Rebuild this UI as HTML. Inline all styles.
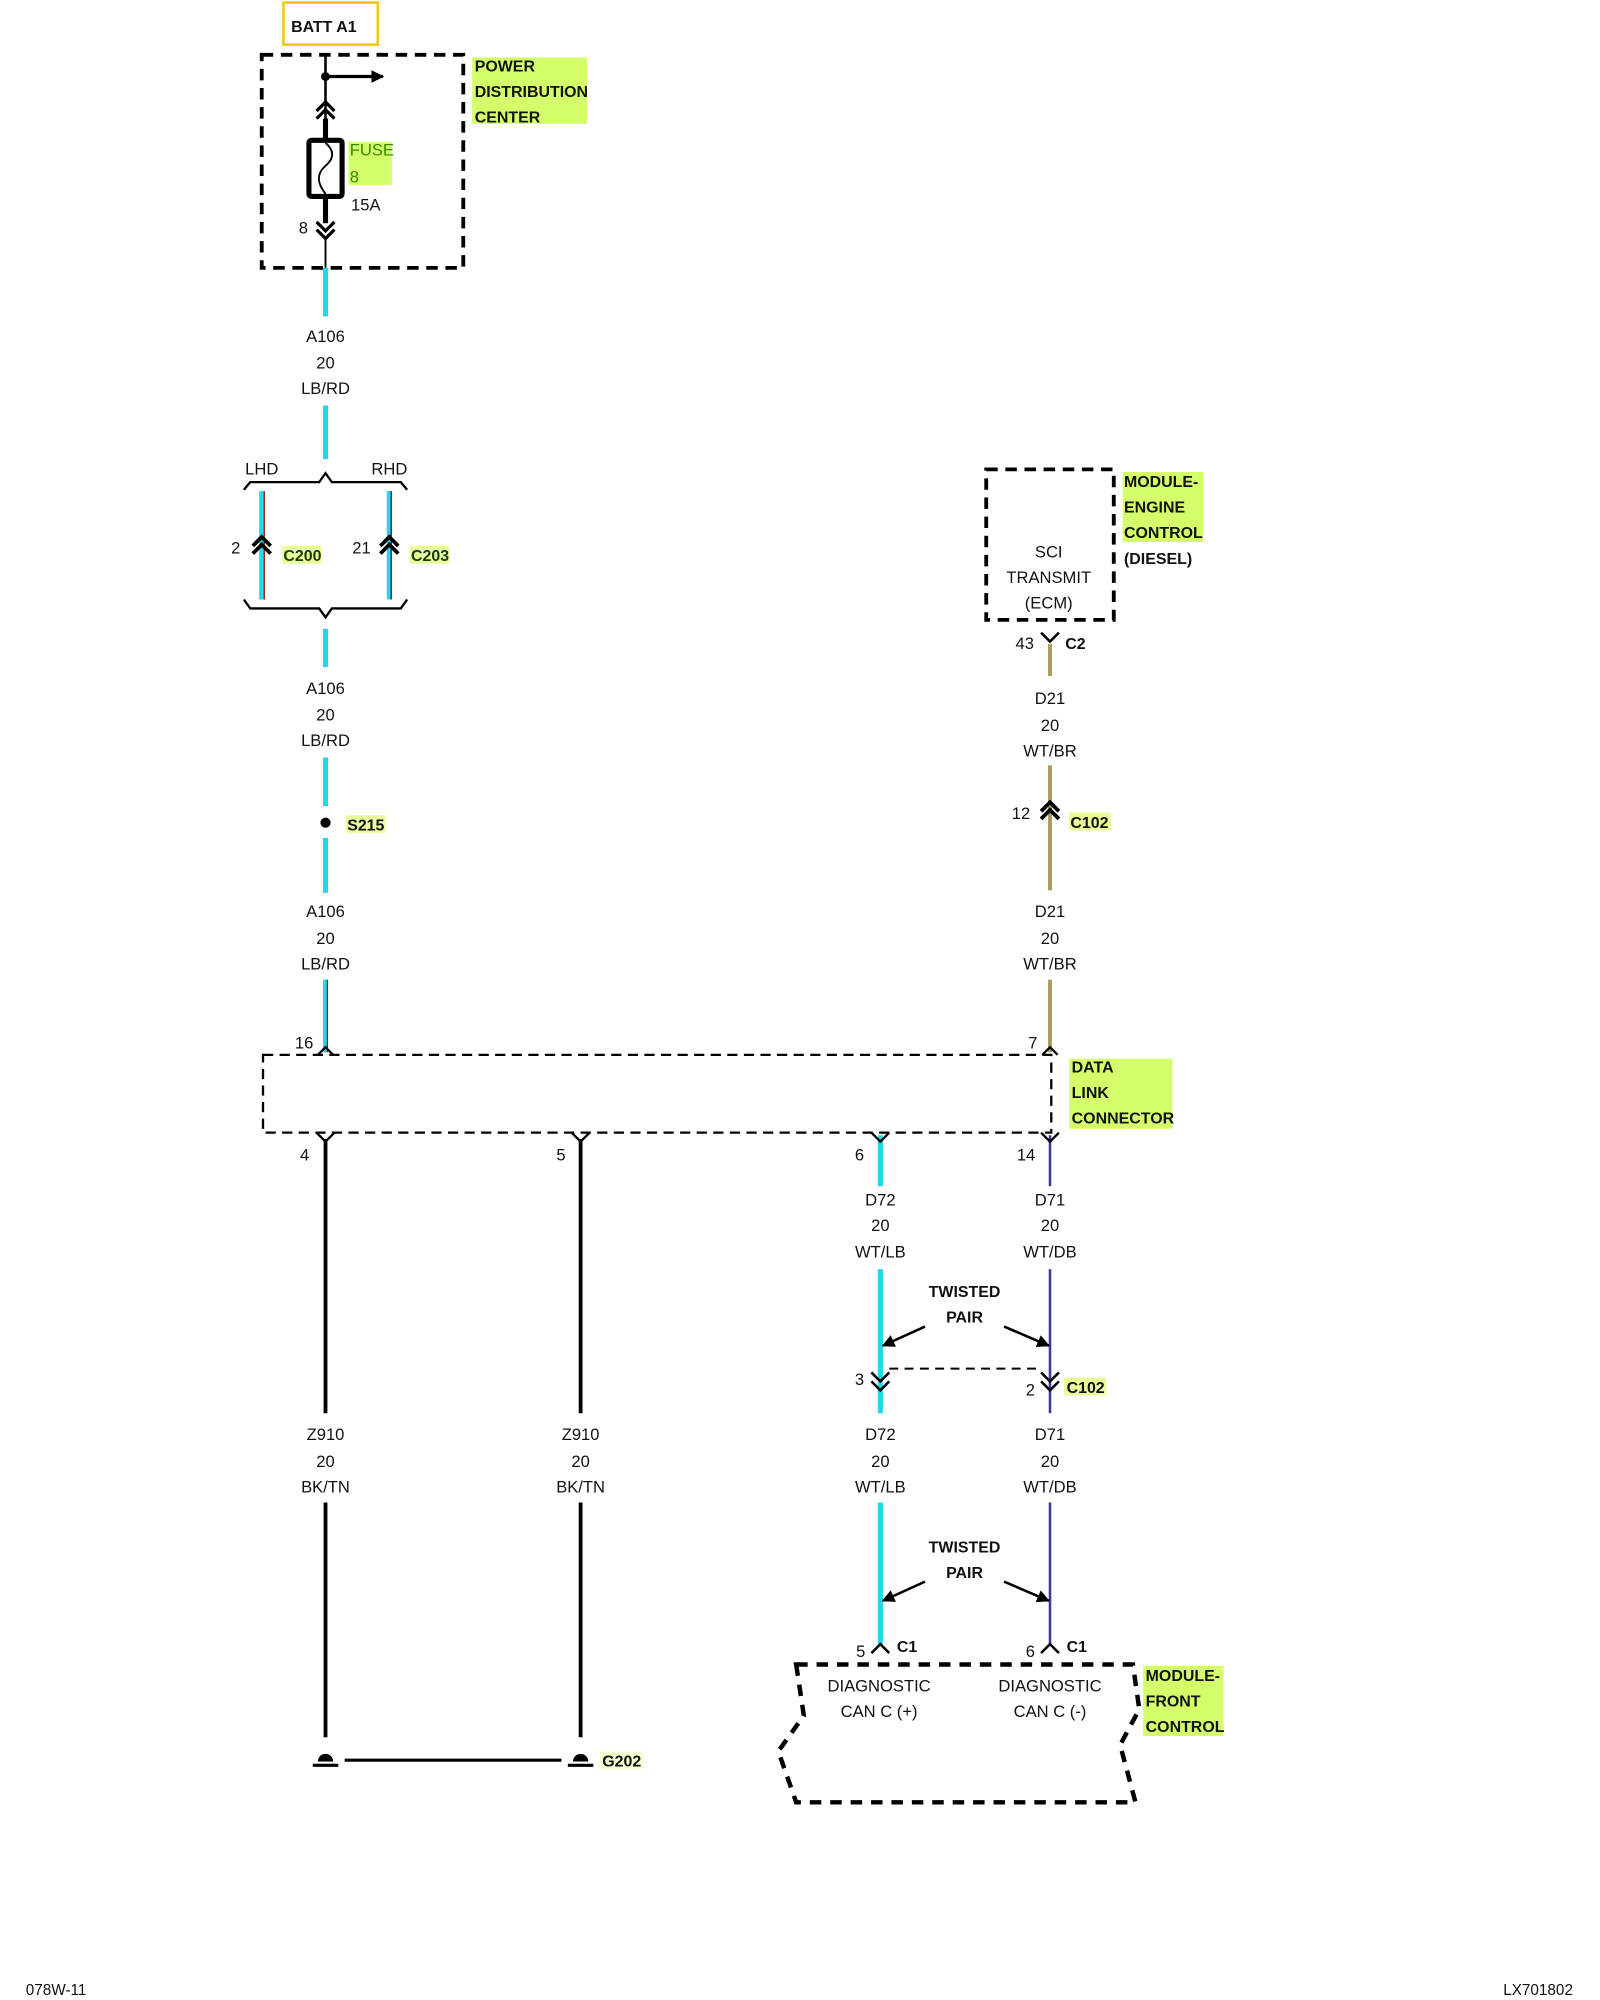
<!DOCTYPE html>
<html><head><meta charset="utf-8"><style>
html,body{margin:0;padding:0;background:#fff;}
svg{display:block;}
text{font-family:"Liberation Sans",Arial,sans-serif;font-size:13px;fill:#111;}
.b{font-weight:bold;font-size:12.5px;}
.m{text-anchor:middle;}
</style></head><body>
<svg width="1600" height="2000" viewBox="0 0 1254 1568" xmlns="http://www.w3.org/2000/svg">
<defs>
<marker id="ah" markerWidth="10" markerHeight="10" refX="9" refY="5" orient="auto" markerUnits="userSpaceOnUse"><path d="M0,0 L10,5 L0,10z" fill="#000"/></marker>
</defs>
<!-- BATT A1 -->
<rect x="222" y="2" width="74" height="33" fill="none" stroke="#f5c518" stroke-width="2"/>
<text x="228" y="25" class="b">BATT A1</text>
<!-- PDC -->
<rect x="205" y="43" width="158" height="167" fill="none" stroke="#000" stroke-width="3" stroke-dasharray="9,6"/>
<rect x="370" y="45" width="90" height="52" fill="#d4ff6a"/>
<text x="372" y="56" class="b">POWER</text><text x="372" y="76" class="b">DISTRIBUTION</text><text x="372" y="96" class="b">CENTER</text>
<line x1="255" y1="43" x2="255" y2="110" stroke="#000" stroke-width="2"/>
<circle cx="255" cy="60" r="3.5"/>
<line x1="255" y1="60" x2="300" y2="60" stroke="#000" stroke-width="2.5" marker-end="url(#ah)"/>
<path d="M248,87 L255,80 L262,87 M248,93 L255,86 L262,93" fill="none" stroke="#000" stroke-width="2.5"/>
<line x1="255" y1="93" x2="255" y2="110" stroke="#000" stroke-width="4"/>
<rect x="242" y="110" width="26" height="44" rx="2" fill="#fff" stroke="#000" stroke-width="4"/>
<path d="M255,112 C262,118 262,124 255,130 C248,136 248,143 255,152" fill="none" stroke="#000" stroke-width="1.5"/>
<line x1="255" y1="154" x2="255" y2="175" stroke="#000" stroke-width="4"/>
<path d="M248,174 L255,181 L262,174 M248,180 L255,187 L262,180" fill="none" stroke="#000" stroke-width="2.5"/>
<line x1="255" y1="185" x2="255" y2="210" stroke="#000" stroke-width="1.5"/>
<rect x="273" y="111" width="34" height="34" fill="#d4ff6a"/>
<text x="274" y="122" fill="#3a7a00" style="fill:#3a8a00">FUSE</text><text x="274" y="143" style="fill:#3a8a00">8</text>
<text x="275" y="165">15A</text><text x="234" y="183">8</text>
<!-- cyan wire segments -->
<g stroke-linecap="butt">
<g stroke="#22d8e8" stroke-width="4">
<line x1="255" y1="210" x2="255" y2="248"/><line x1="255" y1="318" x2="255" y2="360"/>
<line x1="205" y1="385" x2="205" y2="470"/><line x1="305" y1="385" x2="305" y2="470"/>
<line x1="255" y1="493" x2="255" y2="523"/><line x1="255" y1="594" x2="255" y2="632"/>
<line x1="255" y1="657" x2="255" y2="700"/><line x1="255" y1="768" x2="255" y2="825"/>
<line x1="690" y1="890" x2="690" y2="930"/><line x1="690" y1="995" x2="690" y2="1108"/>
<line x1="690" y1="1178" x2="690" y2="1290"/>
</g>
<g stroke="#a01010" stroke-width="1">
<line x1="207" y1="385" x2="207" y2="470"/><line x1="256.5" y1="768" x2="256.5" y2="825"/>
</g>
<g stroke="#1a1a70" stroke-width="1">
<line x1="306.5" y1="385" x2="306.5" y2="470"/>
</g>
<g stroke="#3a3a9a" stroke-width="2">
<line x1="823" y1="890" x2="823" y2="930"/><line x1="823" y1="995" x2="823" y2="1108"/><line x1="823" y1="1178" x2="823" y2="1290"/>
</g>
<g stroke="#a89a5a" stroke-width="3">
<line x1="823" y1="505" x2="823" y2="530"/><line x1="823" y1="600" x2="823" y2="698"/><line x1="823" y1="768" x2="823" y2="825"/>
</g>
</g>
<!-- wire labels -->
<g class="m">
<text x="255" y="268" class="m">A106</text><text x="255" y="289" class="m">20</text><text x="255" y="309" class="m">LB/RD</text>
<text x="255" y="544" class="m">A106</text><text x="255" y="565" class="m">20</text><text x="255" y="585" class="m">LB/RD</text>
<text x="255" y="719" class="m">A106</text><text x="255" y="740" class="m">20</text><text x="255" y="760" class="m">LB/RD</text>
<text x="823" y="552" class="m">D21</text><text x="823" y="573" class="m">20</text><text x="823" y="593" class="m">WT/BR</text>
<text x="823" y="719" class="m">D21</text><text x="823" y="740" class="m">20</text><text x="823" y="760" class="m">WT/BR</text>
<text x="690" y="945" class="m">D72</text><text x="690" y="965" class="m">20</text><text x="690" y="986" class="m">WT/LB</text>
<text x="823" y="945" class="m">D71</text><text x="823" y="965" class="m">20</text><text x="823" y="986" class="m">WT/DB</text>
<text x="690" y="1129" class="m">D72</text><text x="690" y="1150" class="m">20</text><text x="690" y="1170" class="m">WT/LB</text>
<text x="823" y="1129" class="m">D71</text><text x="823" y="1150" class="m">20</text><text x="823" y="1170" class="m">WT/DB</text>
<text x="255" y="1129" class="m">Z910</text><text x="255" y="1150" class="m">20</text><text x="255" y="1170" class="m">BK/TN</text>
<text x="455" y="1129" class="m">Z910</text><text x="455" y="1150" class="m">20</text><text x="455" y="1170" class="m">BK/TN</text>
</g>
<!-- braces -->
<path d="M191,384 L196,378 L250,378 L255,371 L260,378 L314,378 L319,384" fill="none" stroke="#000" stroke-width="1.8"/>
<text x="192" y="372">LHD</text><text x="291" y="372">RHD</text>
<path d="M191,470 L196,477 L250,477 L255,484 L260,477 L314,477 L319,470" fill="none" stroke="#000" stroke-width="1.8"/>
<path d="M198,428 L205,421 L212,428 M198,434 L205,427 L212,434 M298,428 L305,421 L312,428 M298,434 L305,427 L312,434" fill="none" stroke="#000" stroke-width="3"/>
<text x="181" y="434">2</text><text x="276" y="434">21</text>
<rect x="221" y="428" width="31" height="14" fill="#e8ff9a"/><rect x="321" y="428" width="31" height="14" fill="#e8ff9a"/>
<text x="222" y="440" class="b" style="fill:#1a3a00">C200</text><text x="322" y="440" class="b" style="fill:#1a3a00">C203</text>
<circle cx="255" cy="645" r="4"/>
<rect x="271" y="639" width="31" height="14" fill="#e8ff9a"/>
<text x="272" y="651" class="b">S215</text>
<!-- ECM -->
<rect x="773" y="368" width="100" height="118" fill="none" stroke="#000" stroke-width="3" stroke-dasharray="9,6"/>
<text x="822" y="437" class="m">SCI</text><text x="822" y="457" class="m">TRANSMIT</text><text x="822" y="477" class="m">(ECM)</text>
<rect x="880" y="370" width="63" height="55" fill="#d4ff6a"/>
<text x="881" y="382" class="b">MODULE-</text><text x="881" y="402" class="b">ENGINE</text><text x="881" y="422" class="b">CONTROL</text><text x="881" y="442" class="b">(DIESEL)</text>
<path d="M816,496 L823,503 L830,496" fill="none" stroke="#000" stroke-width="2"/>
<text x="796" y="509">43</text><text x="835" y="509" class="b">C2</text>
<path d="M816,636 L823,629 L830,636 M816,642 L823,635 L830,642" fill="none" stroke="#000" stroke-width="3"/>
<text x="793" y="642">12</text>
<rect x="838" y="637" width="33" height="14" fill="#e8ff9a"/><text x="839" y="649" class="b">C102</text>
<!-- DLC -->
<rect x="206" y="827" width="618" height="61" fill="none" stroke="#000" stroke-width="1.8" stroke-dasharray="8,5"/>
<path d="M248,827 L255,820 L262,827 M816,827 L823,820 L830,827" fill="none" stroke="#fff" stroke-width="0"/>
<path d="M249,827 L255,821 L261,827 M817,827 L823,821 L829,827" fill="none" stroke="#000" stroke-width="1.8"/>
<text x="231" y="822">16</text><text x="806" y="822">7</text>
<rect x="838" y="830" width="81" height="55" fill="#d4ff6a"/>
<text x="840" y="841" class="b">DATA</text><text x="840" y="861" class="b">LINK</text><text x="840" y="881" class="b">CONNECTOR</text>
<path d="M248,888 L255,895 L262,888 M448,888 L455,895 L462,888 M683,888 L690,895 L697,888 M816,888 L823,895 L830,888" fill="none" stroke="#000" stroke-width="1.8"/>
<text x="235" y="910">4</text><text x="436" y="910">5</text><text x="670" y="910">6</text><text x="797" y="910">14</text>
<!-- black wires -->
<line x1="255" y1="893" x2="255" y2="1108" stroke="#000" stroke-width="3"/>
<line x1="455" y1="893" x2="455" y2="1108" stroke="#000" stroke-width="3"/>
<line x1="255" y1="1178" x2="255" y2="1362" stroke="#000" stroke-width="3"/>
<line x1="455" y1="1178" x2="455" y2="1362" stroke="#000" stroke-width="3"/>
<!-- grounds -->
<path d="M249,1381 A6,6 0 0 1 261,1381 Z M455,0" fill="#000"/>
<line x1="245" y1="1384" x2="265" y2="1384" stroke="#000" stroke-width="2.5"/>
<path d="M449,1381 A6,6 0 0 1 461,1381 Z" fill="#000"/>
<line x1="445" y1="1384" x2="465" y2="1384" stroke="#000" stroke-width="2.5"/>
<line x1="270" y1="1380" x2="440" y2="1380" stroke="#000" stroke-width="2.5"/>
<rect x="470" y="1373" width="34" height="14" fill="#f2ffd0"/>
<text x="472" y="1385" class="b">G202</text>
<!-- twisted pair 1 -->
<text x="756" y="1017" class="m b">TWISTED</text><text x="756" y="1037" class="m b">PAIR</text>
<line x1="725" y1="1040" x2="692" y2="1055" stroke="#000" stroke-width="2" marker-end="url(#ah)"/>
<line x1="787" y1="1040" x2="822" y2="1055" stroke="#000" stroke-width="2" marker-end="url(#ah)"/>
<path d="M683,1076 L690,1083 L697,1076 M683,1083 L690,1090 L697,1083 M816,1076 L823,1083 L830,1076 M816,1083 L823,1090 L830,1083" fill="none" stroke="#000" stroke-width="2"/>
<line x1="697" y1="1073" x2="816" y2="1073" stroke="#000" stroke-width="1.5" stroke-dasharray="7,5"/>
<text x="670" y="1086">3</text><text x="804" y="1094">2</text>
<rect x="834" y="1080" width="33" height="14" fill="#e8ff9a"/><text x="836" y="1092" class="b">C102</text>
<!-- twisted pair 2 -->
<text x="756" y="1217" class="m b">TWISTED</text><text x="756" y="1237" class="m b">PAIR</text>
<line x1="725" y1="1240" x2="692" y2="1255" stroke="#000" stroke-width="2" marker-end="url(#ah)"/>
<line x1="787" y1="1240" x2="822" y2="1255" stroke="#000" stroke-width="2" marker-end="url(#ah)"/>
<path d="M683,1296 L690,1289 L697,1296 M816,1296 L823,1289 L830,1296" fill="none" stroke="#000" stroke-width="2"/>
<text x="671" y="1299">5</text><text x="703" y="1295" class="b">C1</text>
<text x="804" y="1299">6</text><text x="836" y="1295" class="b">C1</text>
<!-- FCM -->
<path d="M624,1305 L888,1305 L893,1340 L878,1368 L890,1413 L624,1413 L610,1373 L630,1345 Z" fill="none" stroke="#000" stroke-width="3.5" stroke-dasharray="9,7"/>
<text x="689" y="1326" class="m">DIAGNOSTIC</text><text x="689" y="1346" class="m">CAN C (+)</text>
<text x="823" y="1326" class="m">DIAGNOSTIC</text><text x="823" y="1346" class="m">CAN C (-)</text>
<rect x="896" y="1306" width="63" height="55" fill="#d4ff6a"/>
<text x="898" y="1318" class="b">MODULE-</text><text x="898" y="1338" class="b">FRONT</text><text x="898" y="1358" class="b">CONTROL</text>
<!-- footer -->
<text x="20" y="1564" style="font-size:12px">078W-11</text>
<text x="1233" y="1564" style="font-size:12px;text-anchor:end">LX701802</text>
</svg>
</body></html>
